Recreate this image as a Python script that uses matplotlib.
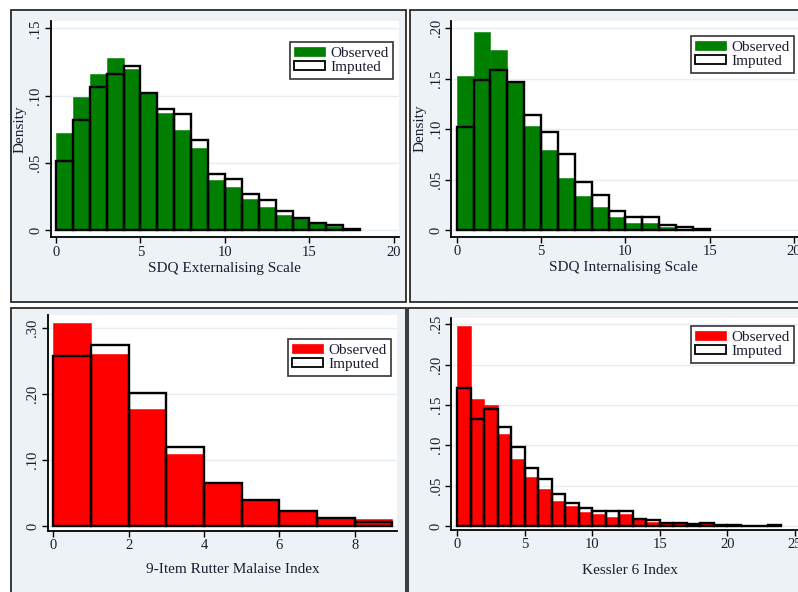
import numpy as np
import matplotlib
matplotlib.use('Agg')
import matplotlib.pyplot as plt
from matplotlib.patches import Rectangle, Patch

plt.rcParams['font.family'] = ['Liberation Serif', 'DejaVu Serif']

W, H = 798, 592
TXT = '#1c1c30'
PANEL_BG = '#edf2f6'
GREEN = '#007f00'
RED = '#ff0000'

# histogram densities, bins of width 1 starting at 0
ext_obs = [0.072, 0.099, 0.116, 0.128, 0.120, 0.102, 0.087, 0.074, 0.061,
           0.037, 0.032, 0.023, 0.017, 0.011, 0.0087, 0.005, 0.0032, 0.0005]
ext_imp = [0.051, 0.082, 0.106, 0.116, 0.122, 0.102, 0.090, 0.086, 0.067,
           0.042, 0.038, 0.027, 0.022, 0.0144, 0.0087, 0.005, 0.0037, 0.001]

int_obs = [0.153, 0.196, 0.179, 0.147, 0.103, 0.079, 0.052, 0.034, 0.0225,
           0.0126, 0.0073, 0.0073, 0.0026, 0.001, 0.0003]
int_imp = [0.1025, 0.149, 0.159, 0.147, 0.114, 0.097, 0.0754, 0.048, 0.035,
           0.019, 0.0129, 0.0129, 0.0053, 0.0026, 0.001]

mal_obs = [0.308, 0.261, 0.177, 0.109, 0.065, 0.039, 0.022, 0.0142, 0.0101]
mal_imp = [0.258, 0.275, 0.201, 0.120, 0.065, 0.039, 0.022, 0.0116, 0.0066]

k6_obs = [0.248, 0.157, 0.150, 0.1136, 0.0826, 0.0603, 0.0454, 0.031, 0.025,
          0.017, 0.0149, 0.0116, 0.0149, 0.0087, 0.0054, 0.0041, 0.0041,
          0.0025, 0.0045, 0.0005, 0.0005, 0, 0, 0.0008]
k6_imp = [0.1706, 0.133, 0.145, 0.1227, 0.0983, 0.0723, 0.0587, 0.040, 0.029,
          0.0219, 0.0186, 0.0186, 0.0186, 0.0087, 0.0074, 0.0041, 0.0041,
          0.0025, 0.0033, 0.001, 0.001, 0, 0, 0.001]

ext_xticks = [0, 5, 10, 15, 20]
ext_yticks = [0, 0.05, 0.10, 0.15]
ext_ylabels = ['0', '.05', '.10', '.15']
int_xticks = [0, 5, 10, 15, 20]
int_yticks = [0, 0.05, 0.10, 0.15, 0.20]
int_ylabels = ['0', '.05', '.10', '.15', '.20']
mal_xticks = [0, 2, 4, 6, 8]
mal_yticks = [0, 0.10, 0.20, 0.30]
mal_ylabels = ['0', '.10', '.20', '.30']
k6_xticks = [0, 5, 10, 15, 20, 25]
k6_yticks = [0, 0.05, 0.10, 0.15, 0.20, 0.25]
k6_ylabels = ['0', '.05', '.10', '.15', '.20', '.25']


def px_box(l, t, r, b):
    return [l / W, 1 - b / H, (r - l) / W, (b - t) / H]


fig = plt.figure(figsize=(W / 100, H / 100), dpi=100)
fig.patch.set_facecolor('white')


def draw_panel(panel_px, ax_px, xlim, ylim, xticks, yticks, ylabels,
               obs, imp, color, xlabel, xlab_pos, ylabel, legend_px):
    # outer graph region (Stata style)
    l, t, r, b = panel_px
    fig.add_artist(Rectangle((l / W, 1 - b / H), (r - l) / W, (b - t) / H,
                             transform=fig.transFigure, facecolor=PANEL_BG,
                             edgecolor='#2a2a2a', lw=1.3, zorder=0))
    ax = fig.add_axes(px_box(*ax_px))
    ax.set_facecolor('white')
    x = np.arange(len(obs))
    ax.bar(x, obs, width=1, align='edge', color=color, edgecolor=color,
           lw=0.4, zorder=2)
    ax.bar(x, imp, width=1, align='edge', facecolor='none',
           edgecolor='black', lw=1.7, zorder=3)
    ax.set_xlim(*xlim)
    ax.set_ylim(*ylim)
    ax.set_xticks(xticks)
    ax.set_xticklabels([str(v) for v in xticks])
    ax.set_yticks(yticks)
    ax.set_yticklabels(ylabels, rotation=90, va='center')
    ax.yaxis.grid(True, color='#e6edf3', lw=1.0)
    ax.set_axisbelow(True)
    for s in ['top', 'right']:
        ax.spines[s].set_visible(False)
    for s in ['left', 'bottom']:
        ax.spines[s].set_color('black')
        ax.spines[s].set_linewidth(1.3)
    ax.tick_params(direction='out', length=4, width=1, colors='black',
                   labelcolor=TXT, labelsize=10.5, pad=2)
    ax.text(xlab_pos[0], xlab_pos[1], xlabel, transform=ax.transAxes,
            ha='center', va='center', fontsize=11, color=TXT)
    if ylabel:
        ax.text(-0.088, 0.5, ylabel, transform=ax.transAxes, rotation=90,
                ha='center', va='center', fontsize=11, color=TXT)
    handles = [Patch(facecolor=color, edgecolor=color, lw=0.5),
               Patch(facecolor='white', edgecolor='black', lw=1.3)]
    leg = ax.legend(handles, ['Observed', 'Imputed'], loc='upper right',
                    bbox_to_anchor=(legend_px[0] / W, 1 - legend_px[1] / H),
                    bbox_transform=fig.transFigure, fontsize=11,
                    frameon=True, fancybox=False, borderaxespad=0,
                    handlelength=2.0, handleheight=0.55, handletextpad=0.35,
                    labelspacing=0.1, borderpad=0.3)
    leg.get_frame().set_edgecolor('black')
    leg.get_frame().set_linewidth(1.2)
    for txt in leg.get_texts():
        txt.set_color(TXT)
    return ax


draw_panel((10.5, 10, 405.5, 302), (50.7, 21, 399, 237.3),
           (-0.31, 20.30), (-0.0054, 0.1554),
           ext_xticks, ext_yticks, ext_ylabels, ext_obs, ext_imp, GREEN,
           'SDQ Externalising Scale', (0.5, -0.142), 'Density', (393, 42))
draw_panel((410, 10, 830, 302), (451, 21, 799, 236.5),
           (-0.34, 20.29), (-0.0064, 0.2073),
           int_xticks, int_yticks, int_ylabels, int_obs, int_imp, GREEN,
           'SDQ Internalising Scale', (0.494, -0.145), 'Density', (794, 36))
draw_panel((10.5, 307.5, 405.5, 630), (47.7, 315, 397, 531),
           (-0.149, 9.12), (-0.0076, 0.320),
           mal_xticks, mal_yticks, mal_ylabels, mal_obs, mal_imp, RED,
           '9-Item Rutter Malaise Index', (0.53, -0.18), None, (391, 339))
draw_panel((408.5, 307.5, 830, 630), (451, 318, 799, 530),
           (-0.467, 25.3), (-0.005, 0.2577),
           k6_xticks, k6_yticks, k6_ylabels, k6_obs, k6_imp, RED,
           'Kessler 6 Index', (0.514, -0.193), None, (794, 326))

fig.savefig('out.png', dpi=100)
